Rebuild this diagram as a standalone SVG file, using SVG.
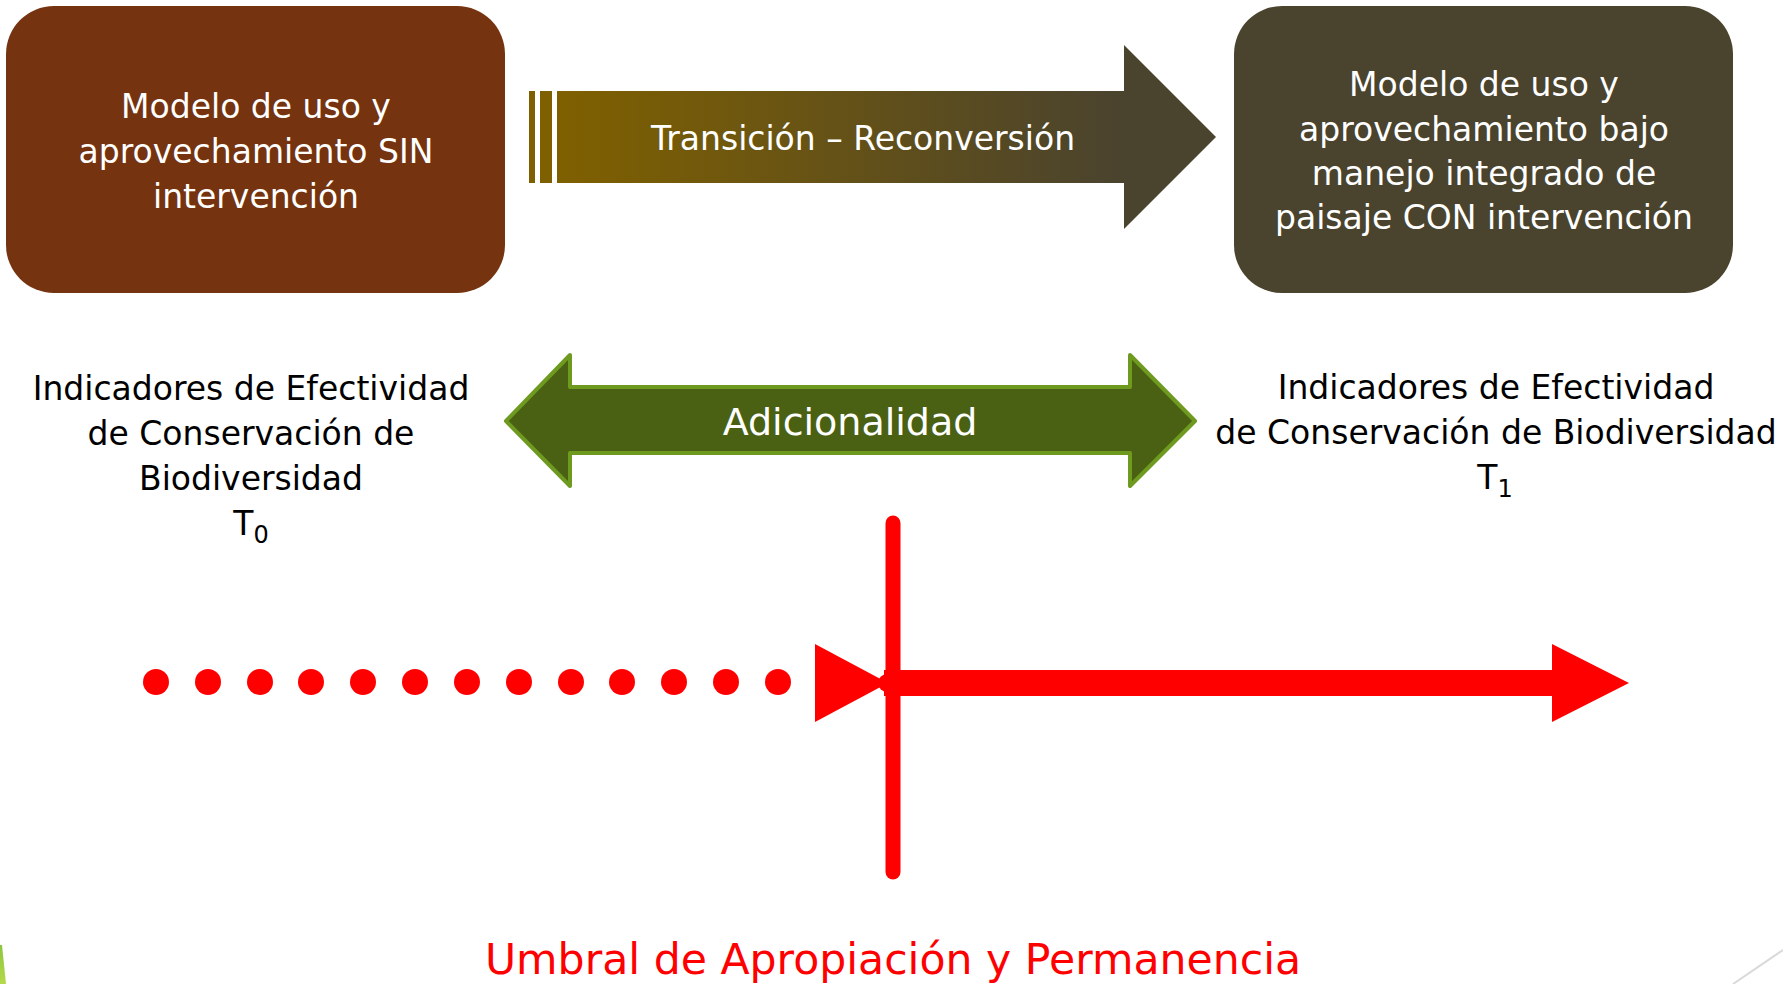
<svg xmlns="http://www.w3.org/2000/svg" width="1783" height="984" viewBox="0 0 1783 984">
  <defs>
    <linearGradient id="gradTrans" gradientUnits="userSpaceOnUse" x1="560" y1="0" x2="1120" y2="0">
      <stop offset="0" stop-color="#7F6000"/>
      <stop offset="1" stop-color="#4A432E"/>
    </linearGradient>
    <linearGradient id="gradGreen" x1="0" y1="0" x2="0" y2="1">
      <stop offset="0" stop-color="#8CC63F"/>
      <stop offset="1" stop-color="#B5D94A"/>
    </linearGradient>
    <style>
      .t { font-family: "DejaVu Sans", Verdana, sans-serif; text-anchor: middle; }
      .box { font-size: 33px; fill: #FFFFFF; }
      .ind { font-size: 33px; fill: #000000; }
      .sub { font-size: 24px; }
      .red { fill: #FF0000; }
      .dot { fill: #FF0000; }
    </style>
  </defs>

  <rect width="1783" height="984" fill="#FFFFFF"/>

  <!-- slide decorations -->
  <polygon points="0,945 2,945 6,984 0,984" fill="url(#gradGreen)"/>
  <line x1="1733" y1="984" x2="1783" y2="950" stroke="#D9D9D9" stroke-width="2"/>

  <g id="node-sin">
    <rect x="6" y="6" width="499" height="287" rx="48" ry="48" fill="#75330F"/>
    <text class="t box" x="256" y="118">Modelo de uso y</text>
    <text class="t box" x="256" y="163">aprovechamiento SIN</text>
    <text class="t box" x="256" y="208">intervención</text>
  </g>

  <g id="node-con">
    <rect x="1234" y="6" width="499" height="287" rx="48" ry="48" fill="#4A432E"/>
    <text class="t box" x="1484" y="96">Modelo de uso y</text>
    <text class="t box" x="1484" y="141">aprovechamiento bajo</text>
    <text class="t box" x="1484" y="185">manejo integrado de</text>
    <text class="t box" x="1484" y="229">paisaje CON intervención</text>
  </g>

  <g id="node-transicion">
    <rect x="529" y="91" width="6" height="92" fill="#7F6000"/>
    <rect x="540" y="91" width="12" height="92" fill="#7F6000"/>
    <polygon points="557,91 1124,91 1124,45 1216,137 1124,229 1124,183 557,183" fill="url(#gradTrans)"/>
    <text class="t box" x="863" y="150" font-size="32.5">Transición – Reconversión</text>
  </g>

  <g id="node-adicionalidad">
    <polygon points="506,421 570,355 570,387 1130,387 1130,355 1195,421 1130,486 1130,453 570,453 570,486" fill="#4A6114" stroke="#6E9A1F" stroke-width="4" stroke-linejoin="round"/>
    <text class="t" x="850" y="435" font-size="38" fill="#FFFFFF">Adicionalidad</text>
  </g>

  <g id="node-t0">
    <text class="t ind" x="251" y="400">Indicadores de Efectividad</text>
    <text class="t ind" x="251" y="445">de Conservación de</text>
    <text class="t ind" x="251" y="490">Biodiversidad</text>
    <text class="t ind" x="251" y="535">T<tspan class="sub" dy="8">0</tspan></text>
  </g>

  <g id="node-t1">
    <text class="t ind" x="1496" y="399">Indicadores de Efectividad</text>
    <text class="t ind" x="1496" y="444">de Conservación de Biodiversidad</text>
    <text class="t ind" x="1495" y="489">T<tspan class="sub" dy="8">1</tspan></text>
  </g>

  <g id="connectors">
    <g id="dots">
      <circle class="dot" cx="156" cy="682" r="13"/>
      <circle class="dot" cx="208" cy="682" r="13"/>
      <circle class="dot" cx="260" cy="682" r="13"/>
      <circle class="dot" cx="311" cy="682" r="13"/>
      <circle class="dot" cx="363" cy="682" r="13"/>
      <circle class="dot" cx="415" cy="682" r="13"/>
      <circle class="dot" cx="467" cy="682" r="13"/>
      <circle class="dot" cx="519" cy="682" r="13"/>
      <circle class="dot" cx="571" cy="682" r="13"/>
      <circle class="dot" cx="622" cy="682" r="13"/>
      <circle class="dot" cx="674" cy="682" r="13"/>
      <circle class="dot" cx="726" cy="682" r="13"/>
      <circle class="dot" cx="778" cy="682" r="13"/>
    </g>
    <polygon points="815,644 888,683 815,722" fill="#FF0000"/>
    <line x1="893" y1="523" x2="893" y2="872" stroke="#FF0000" stroke-width="15" stroke-linecap="round"/>
    <polygon points="884,670 1552,670 1552,644 1629,683 1552,722 1552,696 884,696" fill="#FF0000"/>
    <circle cx="887" cy="683" r="9" fill="#FF0000"/>
  </g>

  <g id="node-umbral">
    <text class="t red" x="893" y="974" font-size="42.6">Umbral de Apropiación y Permanencia</text>
  </g>
</svg>
